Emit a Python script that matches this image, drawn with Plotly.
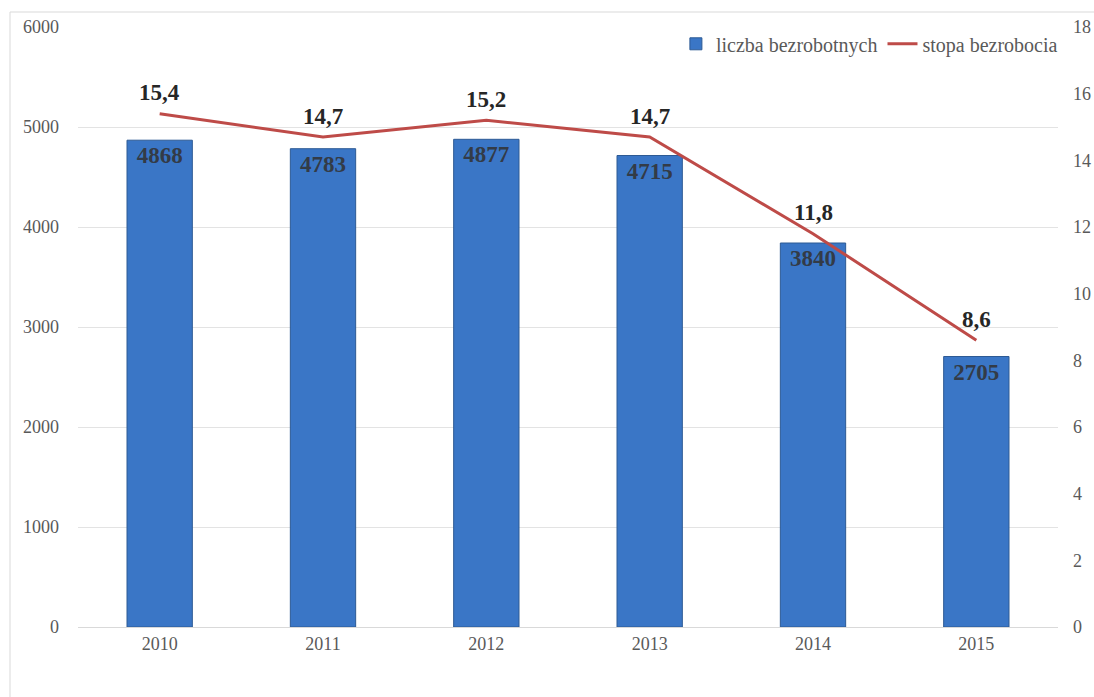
import plotly.graph_objects as go

years = ["2010", "2011", "2012", "2013", "2014", "2015"]
unemployed = [4868, 4783, 4877, 4715, 3840, 2705]
rate = [15.4, 14.7, 15.2, 14.7, 11.8, 8.6]
left_ticks = [0, 1000, 2000, 3000, 4000, 5000, 6000]
right_ticks = [0, 2, 4, 6, 8, 10, 12, 14, 16, 18]

FONT = "Liberation Serif, Times New Roman, serif"

fig = go.Figure()
fig.add_trace(go.Bar(
    x=years, y=unemployed, name="liczba bezrobotnych",
    marker=dict(color="#3a76c6", line=dict(color="#2d5a94", width=1)),
    width=0.4,
    text=[str(v) for v in unemployed], textposition="inside",
    insidetextanchor="end",
    textfont=dict(family=FONT, size=23, color="#333b47", weight="bold"),
    cliponaxis=False,
))
fig.add_trace(go.Scatter(
    x=years, y=rate, name="stopa bezrobocia", yaxis="y2",
    mode="lines",
    line=dict(color="#be4b48", width=3),
    cliponaxis=False,
))

# category axis: annotations are placed by category index
annotations = [
    dict(x=i, y=v, xref="x", yref="y2", text=f"{v:.1f}".replace(".", ","),
         showarrow=False, yshift=21,
         font=dict(family=FONT, size=23, color="#262626", weight="bold"))
    for i, v in enumerate(rate)
]

fig.update_layout(
    width=1094, height=697,
    margin=dict(l=78, r=36, t=27, b=70, autoexpand=False),
    paper_bgcolor="white", plot_bgcolor="white",
    font=dict(family=FONT, size=18, color="#595959"),
    bargap=0.6,
    showlegend=True,
    legend=dict(orientation="h", x=1.005, xanchor="right", y=0.972, yanchor="middle",
                bgcolor="rgba(0,0,0,0)", font=dict(family=FONT, size=20, color="#595959"),
                traceorder="normal", itemwidth=30),
    xaxis=dict(type="category", showgrid=False, showline=True, linecolor="#d9d9d9", linewidth=1,
               ticks="", tickfont=dict(family=FONT, size=18, color="#595959")),
    yaxis=dict(range=[0, 6000], tickvals=left_ticks, showgrid=True, gridcolor="#e3e3e3",
               gridwidth=1, zeroline=False, showline=False, ticks="",
               ticklabelstandoff=18, tickfont=dict(family=FONT, size=18, color="#595959")),
    yaxis2=dict(range=[0, 18], tickvals=right_ticks, overlaying="y", side="right",
                showgrid=False, zeroline=False, showline=False, ticks="",
                ticklabelstandoff=14, tickfont=dict(family=FONT, size=18, color="#595959")),
    annotations=annotations,
    shapes=[dict(type="rect", xref="paper", yref="paper",
                 x0=-68/980, x1=1.2, y0=-0.2, y1=1 + 15/600,
                 line=dict(color="#d9d9d9", width=1), fillcolor="rgba(0,0,0,0)", layer="below")],
)

fig.write_html("out.html", config={"displayModeBar": False},
               post_script="document.body.style.margin='0px';document.body.style.overflow='hidden';")
